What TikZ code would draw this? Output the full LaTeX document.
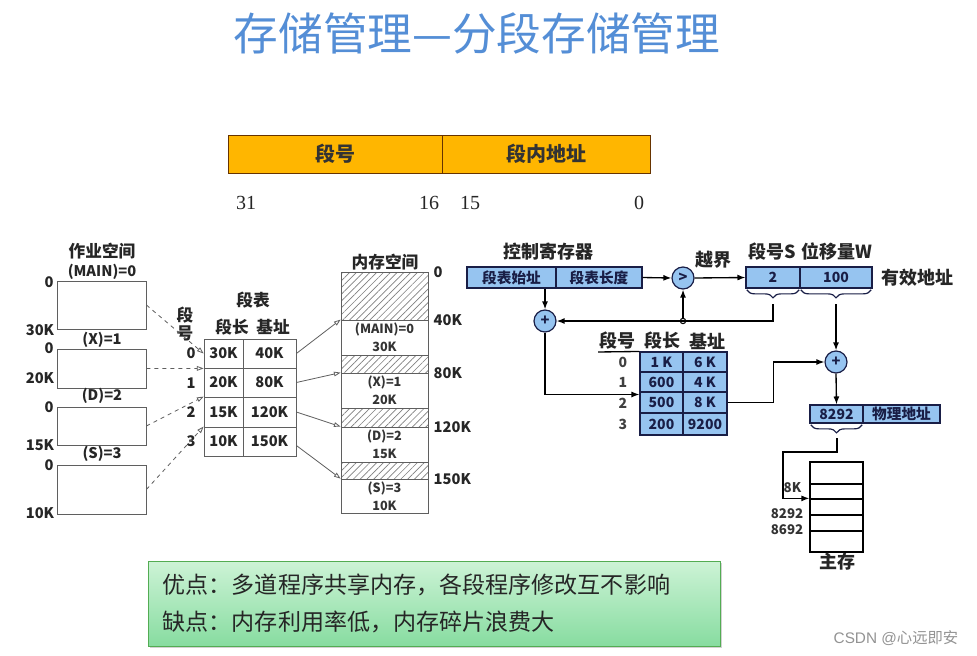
\documentclass[tikz,border=0pt]{standalone}
\usepackage{fontspec}
\setmainfont{Noto Sans CJK SC}
\newfontfamily\sernum{Liberation Serif}
\newfontfamily\latsans{Liberation Sans}
\usetikzlibrary{arrows.meta,patterns.meta,decorations.pathreplacing,shadows,calc}
\definecolor{titleblue}{RGB}{84,142,214}
\definecolor{barorange}{RGB}{255,182,0}
\definecolor{cellblue}{RGB}{150,196,240}
\definecolor{navy}{RGB}{25,30,70}
\definecolor{linegray}{RGB}{95,95,95}
\definecolor{gtop}{RGB}{205,243,214}
\definecolor{gbot}{RGB}{135,220,160}
% rectangle node given by its corners (picture units)
\newcommand{\rbox}[7][]{%
  \pgfmathsetmacro\rbw{abs(#5-#3)*0.75}%
  \pgfmathsetmacro\rbh{abs(#6-#4)*0.75}%
  \node[inner sep=0pt, minimum width=\rbw pt, minimum height=\rbh pt, #1] (#2) at ({(#3+#5)/2},{(#4+#6)/2}) {#7};}
\tikzset{
  plainbox/.style={draw=linegray, line width=0.6pt},
  hatchbox/.style={draw=linegray, line width=0.6pt, pattern={Lines[angle=45,distance=3.6pt,line width=0.5pt]}, pattern color=gray},
  lfont/.style={font=\fontsize{11}{13}\selectfont\bfseries, text=black!85},
  mfont/.style={font=\fontsize{9.5}{13.5}\selectfont\bfseries, text=black!80, align=center},
  hfont/.style={font=\fontsize{12.5}{15}\selectfont\bfseries, text=black!85},
  rhead/.style={font=\fontsize{13.5}{16}\selectfont\bfseries, text=black!85},
  bluecell/.style={draw=navy, line width=0.8pt, fill=cellblue, font=\fontsize{10.5}{12}\selectfont\bfseries, text=navy},
  circ/.style={circle, draw=navy, line width=0.9pt, fill=cellblue, minimum size=16.5pt, inner sep=0pt, font=\fontsize{11}{12}\selectfont\bfseries, text=navy},
  dashar/.style={draw=linegray, dashed, line width=0.6pt, -{Triangle[open,length=5pt,width=3.5pt]}},
  grayar/.style={draw=linegray, line width=0.6pt, -{Triangle[open,length=5pt,width=3.5pt]}},
  blkar/.style={draw=black, line width=1pt, -{Latex[length=6pt,width=4.5pt]}},
  blkln/.style={draw=black, line width=1pt},
  brc/.style={draw=navy, line width=0.9pt, decorate, decoration={brace, mirror, amplitude=6pt}},
  num/.style={font=\sernum\fontsize{15}{17}\selectfont, text=black!85},
  barbox/.style={draw=orange!40!black, line width=0.6pt, fill=barorange, font=\fontsize{15}{18}\selectfont\bfseries, text=black!80},
  pcfont/.style={anchor=west, font=\fontsize{17.3}{19}\selectfont, text=black!85}
}
\begin{document}
\begin{tikzpicture}[x=0.75pt,y=-0.75pt]
\useasboundingbox[fill=white] (0,0) rectangle (977,656);

% title
\node[font=\fontsize{33.5}{36}\selectfont, text=titleblue] (title) at (477,33) {存储管理—分段存储管理};

% address format bar
\rbox[barbox]{segno}{228}{135}{442}{173}{段号}
\rbox[barbox]{segoff}{442}{135}{650}{173}{段内地址}
\node[num] (n31) at (246,203) {31};
\node[num] (n16) at (429,203) {16};
\node[num] (n15) at (470,203) {15};
\node[num] (n0) at (639,203) {0};

% ---------- left: job space ----------
\node[hfont] (jobt) at (102,251) {作业空间};
\node[lfont] (jm) at (102,272) {(MAIN)=0};
\rbox[plainbox]{b1}{57}{281}{146}{329}{}
\node[lfont] (jx) at (102,340) {(X)=1};
\rbox[plainbox]{b2}{57}{349}{146}{388}{}
\node[lfont] (jd) at (102,396) {(D)=2};
\rbox[plainbox]{b3}{57}{407}{146}{445}{}
\node[lfont] (js) at (102,454) {(S)=3};
\rbox[plainbox]{b4}{57}{465}{146}{514}{}
\node[lfont] (z1) at (49,282) {0};
\node[lfont] (e1) at (40,330) {30K};
\node[lfont] (z2) at (49,348) {0};
\node[lfont] (e2) at (40,378) {20K};
\node[lfont] (z3) at (49,407) {0};
\node[lfont] (e3) at (40,445) {15K};
\node[lfont] (z4) at (49,465) {0};
\node[lfont] (e4) at (40,513) {10K};

% segment table (left)
\node[hfont] (stt) at (253,300) {段表};
\node[hfont] (sth1) at (232,327) {段长};
\node[hfont] (sth2) at (273,327) {基址};
\node[hfont] (dq1) at (185,315) {段};
\node[hfont] (dq2) at (185,333) {号};
\foreach \i/\ya/\yb/\va/\vb in {0/339/368/30K/40K, 1/368/397/20K/80K, 2/397/427/15K/120K, 3/427/456/10K/150K}{
  \rbox[plainbox, lfont]{ta\i}{204}{\ya}{243}{\yb}{\va}
  \rbox[plainbox, lfont]{tb\i}{243}{\ya}{296}{\yb}{\vb}
}
\node[lfont] (r0) at (191,353) {0};
\node[lfont] (r1) at (191,383) {1};
\node[lfont] (r2) at (191,412) {2};
\node[lfont] (r3) at (191,441) {3};

\draw[dashar] (b1.east) -- (ta0.west);
\draw[dashar] (b2.east) -- (ta0.south west);
\draw[dashar] (b3.east) -- (ta2.north west);
\draw[dashar] (b4.east) -- (ta3.north west);

% memory space
\node[hfont] (mst) at (385,262) {内存空间};
\rbox[hatchbox]{h0}{341}{272}{428}{320}{}
\rbox[plainbox, mfont]{m1}{341}{320}{428}{355}{(MAIN)=0\\30K}
\rbox[hatchbox]{h1}{341}{355}{428}{373}{}
\rbox[plainbox, mfont]{m2}{341}{373}{428}{408}{(X)=1\\20K}
\rbox[hatchbox]{h2}{341}{408}{428}{427}{}
\rbox[plainbox, mfont]{m3}{341}{427}{428}{462}{(D)=2\\15K}
\rbox[hatchbox]{h3}{341}{462}{428}{479}{}
\rbox[plainbox, mfont]{m4}{341}{479}{428}{513}{(S)=3\\10K}
\node[lfont, anchor=west] (a0) at (429,272) {0};
\node[lfont, anchor=west] (a40) at (429,320) {40K};
\node[lfont, anchor=west] (a80) at (429,373) {80K};
\node[lfont, anchor=west] (a120) at (429,427) {120K};
\node[lfont, anchor=west] (a150) at (429,479) {150K};

\draw[grayar] (tb0.east) -- (m1.north west);
\draw[grayar] (tb1.east) -- (m2.north west);
\draw[grayar] (tb2.east) -- (m3.north west);
\draw[grayar] ([yshift=-3pt]tb3.east) -- (m4.north west);

% ---------- right: address translation ----------
\node[rhead] (ctl) at (548,252) {控制寄存器};
\rbox[bluecell, font=\fontsize{11}{12}\selectfont\bfseries]{cr1}{467}{267}{556}{288}{段表始址}
\rbox[bluecell, font=\fontsize{11}{12}\selectfont\bfseries]{cr2}{556}{267}{642}{288}{段表长度}
\node[circ] (cmp) at (683,278) {>};
\node[rhead] (yj) at (713,260) {越界};
\rbox[bluecell]{ea1}{746}{267}{800}{288}{2}
\rbox[bluecell]{ea2}{800}{267}{872}{288}{100}
\node[rhead] (sS) at (772,252) {段号S};
\node[rhead] (sW) at (837,252) {位移量W};
\node[rhead, anchor=west] (yx) at (877,278) {有效地址};

\draw[brc] ([xshift=1pt,yshift=-1pt]ea1.south west) -- ([xshift=-1pt,yshift=-1pt]ea1.south east);
\draw[brc] ([xshift=1pt,yshift=-1pt]ea2.south west) -- ([xshift=-1pt,yshift=-1pt]ea2.south east);
\coordinate (bS) at (773,304);
\coordinate (bW) at (836,304);

\node[circ] (p1) at (545,321) {+};
\node[circle, draw=black, line width=0.8pt, fill=white, minimum size=4pt, inner sep=0pt] (jn) at (683,321) {};

\draw[blkar] (bS) |- (p1.east);
\draw[blkar] (jn) -- (cmp.south);
\draw[blkar] (cr2.east) -- (cmp.west);
\draw[blkar] (cmp.east) -- (ea1.west);
\draw[blkar] (p1 |- cr1.south) -- (p1.north);

% segment table (right)
\node[rhead] (h2a) at (617,341) {段号};
\node[rhead] (h2b) at (662,341) {段长};
\node[rhead] (h2c) at (707,341) {基址};
\coordinate (hl) at (598,352);
\foreach \i/\ya/\yb/\va/\vb in {0/352/372/1 K/6 K, 1/372/392/600/4 K, 2/392/413/500/8 K, 3/413/435/200/9200}{
  \rbox[bluecell]{ra\i}{640}{\ya}{683}{\yb}{\va}
  \rbox[bluecell]{rb\i}{683}{\ya}{727}{\yb}{\vb}
}
\draw[blkln] (hl) -- (ra0.north west);
\node[font=\fontsize{10.5}{12}\selectfont\bfseries, text=black!75] (q0) at (623,362) {0};
\node[font=\fontsize{10.5}{12}\selectfont\bfseries, text=black!75] (q1) at (623,382) {1};
\node[font=\fontsize{10.5}{12}\selectfont\bfseries, text=black!75] (q2) at (623,403) {2};
\node[font=\fontsize{10.5}{12}\selectfont\bfseries, text=black!75] (q3) at (623,424) {3};

\draw[blkar] (p1.south) |- ([yshift=6pt]ra2.west);

\node[circ] (p2) at (836,362) {+};
\draw[blkar] (rb2.east) -- ++(46,0) |- (p2.west);
\draw[blkar] (bW) -- (p2.north);

\rbox[bluecell]{pa1}{810}{405}{863}{423}{8292}
\rbox[bluecell, font=\fontsize{11}{12}\selectfont\bfseries]{pa2}{863}{405}{940}{423}{物理地址}
\draw[blkar] (p2.south) -- (pa1.north);
\draw[brc] ([xshift=1pt,yshift=-1pt]pa1.south west) -- ([xshift=-1pt,yshift=-1pt]pa1.south east);
\coordinate (bP) at (837,438);
\coordinate (k1) at (783,452);

% main memory
\foreach \i/\ya/\yb in {0/462/484, 1/484/499, 2/499/515, 3/515/531, 4/531/552}{
  \rbox[draw=black, line width=0.9pt, fill=white]{mm\i}{810}{\ya}{863}{\yb}{}
}
\draw[blkar] (bP) |- (k1) |- (mm2.north west);
\node[font=\fontsize{10}{12}\selectfont\bfseries, text=black!80, anchor=east] (l8k) at (806,488) {8K};
\node[font=\fontsize{10}{12}\selectfont\bfseries, text=black!80] (l8292) at (787,514) {8292};
\node[font=\fontsize{10}{12}\selectfont\bfseries, text=black!80] (l8692) at (787,530) {8692};
\node[rhead] (zc) at (837,562) {主存};

% pros / cons box
\rbox[draw=green!35!gray, line width=0.6pt, top color=gtop, bottom color=gbot, drop shadow={shadow xshift=1.5pt, shadow yshift=-1.5pt, opacity=0.35}]{pc}{148}{561}{720}{646}{}
\node[pcfont] (pro) at (158,585) {优点：多道程序共享内存，各段程序修改互不影响};
\node[pcfont] (con) at (158,622) {缺点：内存利用率低，内存碎片浪费大};

% watermark
\node[font=\fontsize{11.5}{13}\selectfont, text=gray!85, anchor=east] (wm) at (963,638) {{\latsans CSDN @}心远即安};
\end{tikzpicture}
\end{document}
